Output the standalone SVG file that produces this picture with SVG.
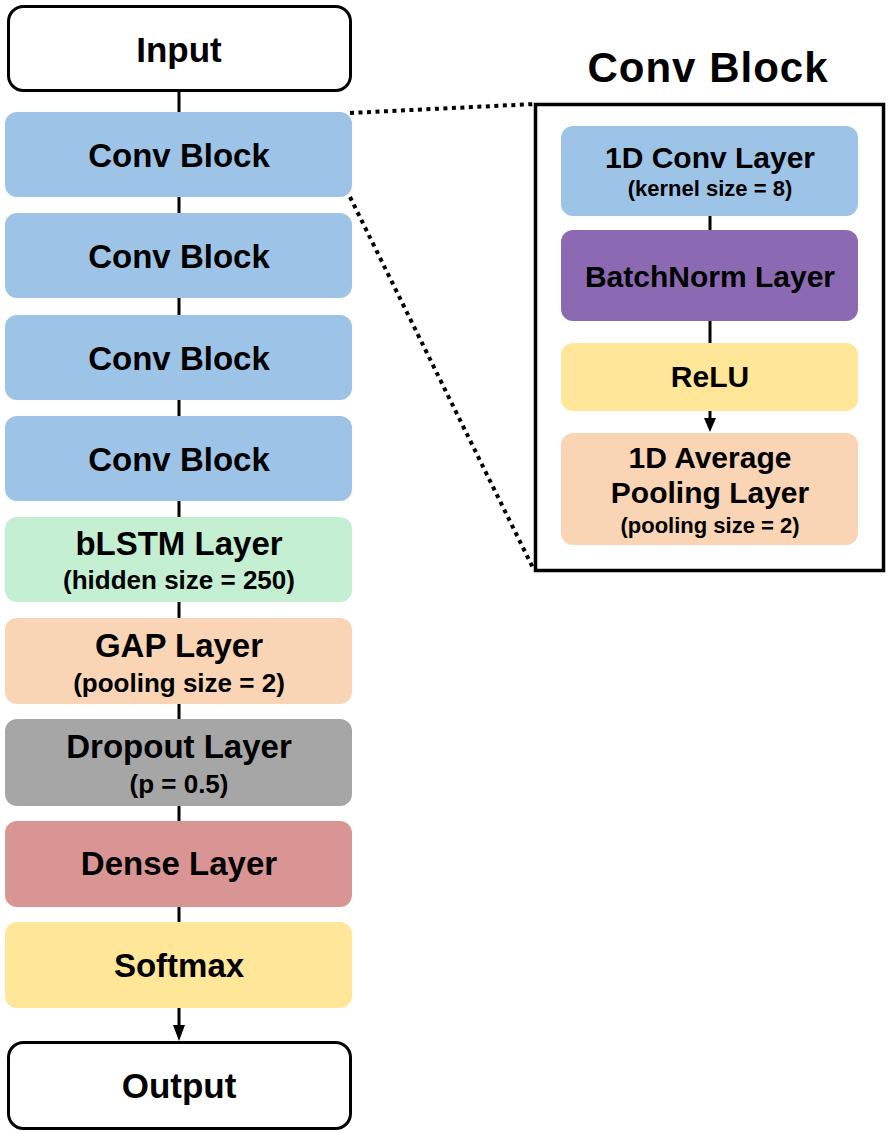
<svg xmlns="http://www.w3.org/2000/svg" width="888" height="1133" viewBox="0 0 888 1133">
<style>
  .t { font-family: "Liberation Sans", Arial, sans-serif; font-weight: bold; fill: #000; text-anchor: middle; }
  .io { font-size: 35px; }
  .m { font-size: 33px; }
  .s { font-size: 26px; }
  .rm { font-size: 30px; }
  .rs { font-size: 22px; }
  .title { font-size: 42px; }
  .wire { stroke: #000; stroke-width: 3; fill: none; }
  .dot { stroke: #000; stroke-width: 4; fill: none; stroke-dasharray: 4 4.5; }
  .blue { fill: #9DC3E6; }
  .green { fill: #C4EFD2; }
  .peach { fill: #F9D5B6; }
  .gray { fill: #A6A6A6; }
  .red { fill: #D99594; }
  .yellow { fill: #FFE699; }
  .purple { fill: #8B6AB3; }
  .white { fill: #fff; stroke: #000; stroke-width: 3; }
</style>
<rect width="888" height="1133" fill="#fff"/>

<g id="connectors">
  <line class="wire" x1="179" y1="92" x2="179" y2="112"/>
  <line class="wire" x1="179" y1="197" x2="179" y2="213"/>
  <line class="wire" x1="179" y1="298" x2="179" y2="315"/>
  <line class="wire" x1="179" y1="400" x2="179" y2="416"/>
  <line class="wire" x1="179" y1="501" x2="179" y2="517"/>
  <line class="wire" x1="179" y1="602" x2="179" y2="618"/>
  <line class="wire" x1="179" y1="704" x2="179" y2="719"/>
  <line class="wire" x1="179" y1="806" x2="179" y2="821"/>
  <line class="wire" x1="179" y1="907" x2="179" y2="922"/>
  <line class="wire" x1="179" y1="1008" x2="179" y2="1026"/>
  <path d="M173,1025 L185,1025 L179,1041 Z" fill="#000"/>
  <line class="wire" x1="710" y1="216" x2="710" y2="230"/>
  <line class="wire" x1="710" y1="321" x2="710" y2="343"/>
  <line class="wire" x1="710" y1="411" x2="710" y2="420"/>
  <path d="M704,418 L716,418 L710,432 Z" fill="#000"/>
  <line class="dot" x1="350" y1="113" x2="535" y2="104"/>
  <line class="dot" x1="350" y1="197" x2="534" y2="570"/>
</g>

<g id="input">
  <rect class="white" x="8.5" y="6.5" width="342" height="84" rx="15"/>
  <text class="t io" x="179" y="62">Input</text>
</g>
<g id="conv1">
  <rect class="blue" x="5" y="112" width="347" height="85" rx="12"/>
  <text class="t m" x="179" y="167">Conv Block</text>
</g>
<g id="conv2">
  <rect class="blue" x="5" y="213" width="347" height="85" rx="12"/>
  <text class="t m" x="179" y="268">Conv Block</text>
</g>
<g id="conv3">
  <rect class="blue" x="5" y="315" width="347" height="85" rx="12"/>
  <text class="t m" x="179" y="370">Conv Block</text>
</g>
<g id="conv4">
  <rect class="blue" x="5" y="416" width="347" height="85" rx="12"/>
  <text class="t m" x="179" y="471">Conv Block</text>
</g>
<g id="blstm">
  <rect class="green" x="5" y="517" width="347" height="85" rx="12"/>
  <text class="t m" x="179" y="555">bLSTM Layer</text>
  <text class="t s" x="179" y="589">(hidden size = 250)</text>
</g>
<g id="gap">
  <rect class="peach" x="5" y="618" width="347" height="86" rx="12"/>
  <text class="t m" x="179" y="657">GAP Layer</text>
  <text class="t s" x="179" y="692">(pooling size = 2)</text>
</g>
<g id="dropout">
  <rect class="gray" x="5" y="719" width="347" height="87" rx="12"/>
  <text class="t m" x="179" y="758">Dropout Layer</text>
  <text class="t s" x="179" y="793">(p = 0.5)</text>
</g>
<g id="dense">
  <rect class="red" x="5" y="821" width="347" height="86" rx="12"/>
  <text class="t m" x="179" y="875">Dense Layer</text>
</g>
<g id="softmax">
  <rect class="yellow" x="5" y="922" width="347" height="86" rx="12"/>
  <text class="t m" x="179" y="977">Softmax</text>
</g>
<g id="output">
  <rect class="white" x="8.5" y="1042.5" width="342" height="86" rx="15"/>
  <text class="t io" x="179" y="1098">Output</text>
</g>

<g id="convblock-detail">
  <text class="t title" x="708" y="82" letter-spacing="1">Conv Block</text>
  <rect x="535.5" y="104.5" width="348" height="466" fill="none" stroke="#000" stroke-width="3.5"/>
</g>
<g id="conv1d">
  <rect class="blue" x="561" y="126" width="297" height="90" rx="12"/>
  <text class="t rm" x="710" y="168">1D Conv Layer</text>
  <text class="t rs" x="710" y="196">(kernel size = 8)</text>
</g>
<g id="batchnorm">
  <rect class="purple" x="561" y="230" width="297" height="91" rx="12"/>
  <text class="t rm" x="710" y="287">BatchNorm Layer</text>
</g>
<g id="relu">
  <rect class="yellow" x="561" y="343" width="297" height="68" rx="12"/>
  <text class="t rm" x="710" y="387">ReLU</text>
</g>
<g id="avgpool">
  <rect class="peach" x="561" y="433" width="297" height="112" rx="12"/>
  <text class="t rm" x="710" y="468">1D Average</text>
  <text class="t rm" x="710" y="503">Pooling Layer</text>
  <text class="t rs" x="710" y="533">(pooling size = 2)</text>
</g>
</svg>
